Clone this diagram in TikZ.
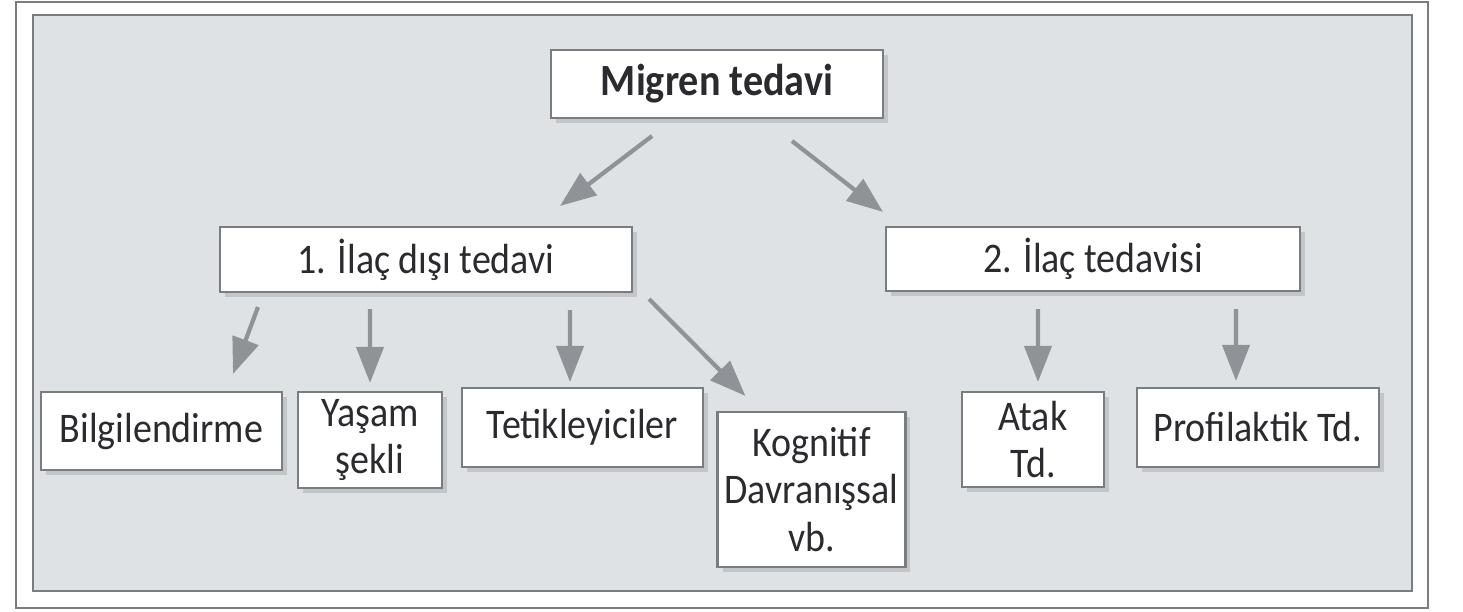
\documentclass[tikz,border=0pt]{standalone}
\usepackage{fontspec}
\setmainfont[FakeStretch=0.9]{Carlito}
\usepackage{tikz}
\usetikzlibrary{positioning,arrows.meta,shadows}
\definecolor{panelgray}{HTML}{DFE2E5}
\definecolor{framegray}{HTML}{7A7C7F}
\definecolor{arrowgray}{HTML}{8F9296}
\definecolor{textgray}{HTML}{2A2B2E}

\begin{document}
\begin{tikzpicture}[
    box/.style={
        rectangle,
        draw=framegray,
        line width=0.6pt,
        fill=white,
        align=center,
        inner sep=2pt,
        text=textgray,
        font=\fontsize{12}{13.6}\selectfont,
        drop shadow={shadow xshift=0.5mm, shadow yshift=-0.5mm,
                     fill=black, opacity=0.12}
    },
    arrow/.style={
        draw=arrowgray,
        line width=1.2pt,
        -{Triangle[length=3.6mm,width=2.7mm]}
    }
]
% Page and frames
\useasboundingbox (0,0) rectangle (14.63,6.12);
\fill[white] (0,0) rectangle (14.63,6.12);
\draw[framegray, line width=0.6pt, fill=white] (0.16,0.04) rectangle (14.28,6.10);
\draw[framegray, line width=0.8pt, fill=panelgray] (0.33,0.21) rectangle (14.12,5.97);

% Top node
\node[box, minimum width=3.32cm, minimum height=0.68cm,
      font=\fontsize{12.7}{15}\selectfont\bfseries] (migren) at (7.17,5.28) {Migren tedavi};

% Second level
\node[box, minimum width=4.12cm, minimum height=0.65cm] (ilac1) at (4.26,3.525) {1. İlaç dışı tedavi};
\node[box, minimum width=4.14cm, minimum height=0.64cm] (ilac2) at (10.93,3.53) {2. İlaç tedavisi};

% Third level, left branch
\node[box, minimum width=2.41cm, minimum height=0.78cm] (bilgi) at (1.615,1.81) {Bilgilendirme};
\node[box, minimum width=1.44cm, minimum height=0.94cm] (yasam) at (3.70,1.72) {Yaşam\\şekli};
\node[box, minimum width=2.41cm, minimum height=0.79cm] (tetik) at (5.825,1.845) {Tetikleyiciler};
\node[box, minimum width=1.85cm, minimum height=1.55cm] (kog) at (8.115,1.225) {Kognitif\\Davranışsal\\vb.};

% Third level, right branch
\node[box, minimum width=1.42cm, minimum height=0.95cm] (atak) at (10.33,1.725) {Atak\\Td.};
\node[box, minimum width=2.42cm, minimum height=0.79cm] (profil) at (12.58,1.845) {Profilaktik Td.};

% Arrows from the top node
\draw[arrow] ([xshift=-6.5mm,yshift=-1.7mm]migren.south) -- ([xshift=13.4mm,yshift=2mm]ilac1.north);
\draw[arrow] ([xshift=7.5mm,yshift=-2.2mm]migren.south) -- ([xshift=-21mm,yshift=1.4mm]ilac2.north);

% Arrows from 1. İlaç dışı tedavi
\draw[arrow] ([xshift=-16.8mm,yshift=-1.4mm]ilac1.south) -- ([xshift=7.15mm,yshift=1.7mm]bilgi.north);
\draw[arrow] ([xshift=-5.6mm,yshift=-1.6mm]ilac1.south) -- ([yshift=0.8mm]yasam.north);
\draw[arrow] ([xshift=14.4mm,yshift=-1.7mm]ilac1.south) -- ([xshift=-1.25mm,yshift=0.5mm]tetik.north);
\draw[arrow] ([xshift=1.6mm,yshift=-0.6mm]ilac1.south east) -- ([xshift=2.9mm,yshift=1.5mm]kog.north west);

% Arrows from 2. İlaç tedavisi
\draw[arrow] ([xshift=-5.5mm,yshift=-1.7mm]ilac2.south) -- ([xshift=0.5mm,yshift=0.9mm]atak.north);
\draw[arrow] ([xshift=14.3mm,yshift=-1.7mm]ilac2.south) -- ([xshift=-2.2mm,yshift=0.6mm]profil.north);
\end{tikzpicture}
\end{document}
